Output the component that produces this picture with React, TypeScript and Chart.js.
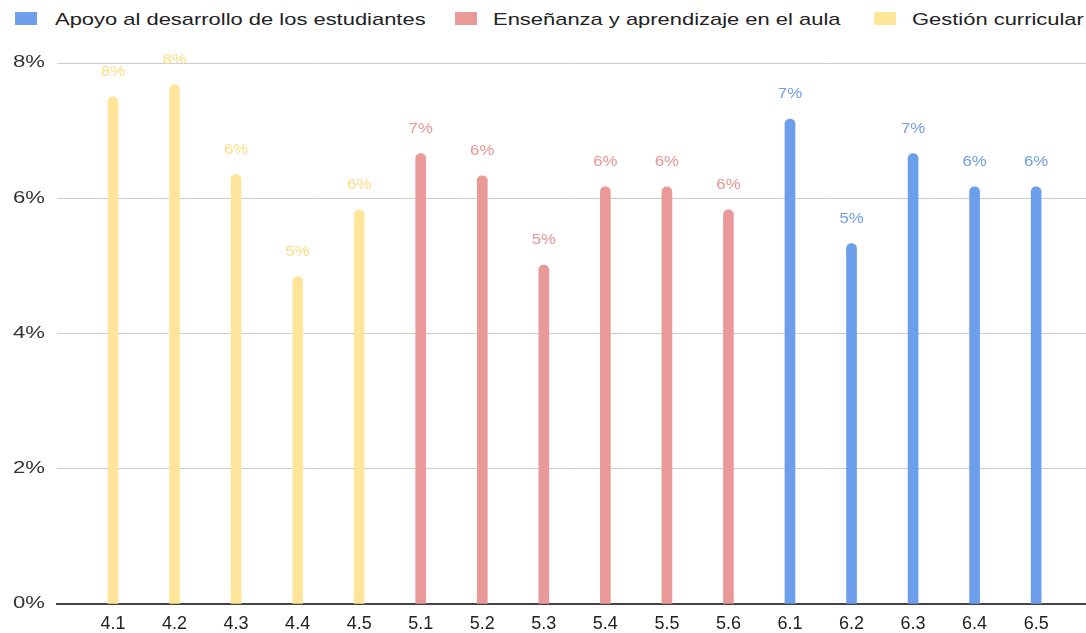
import React, { useEffect, useRef } from "react";
import { Chart, registerables } from "chart.js";

Chart.register(...registerables);

const categories = ["4.1", "4.2", "4.3", "4.4", "4.5", "5.1", "5.2", "5.3", "5.4", "5.5", "5.6", "6.1", "6.2", "6.3", "6.4", "6.5"];

const apoyoCats = ["6.1", "6.2", "6.3", "6.4", "6.5"];
const apoyoValues = [7.17, 5.33, 6.66, 6.17, 6.17];

const ensenanzaCats = ["5.1", "5.2", "5.3", "5.4", "5.5", "5.6"];
const ensenanzaValues = [6.66, 6.33, 5.01, 6.17, 6.17, 5.83];

const gestionCats = ["4.1", "4.2", "4.3", "4.4", "4.5"];
const gestionValues = [7.5, 7.68, 6.35, 4.84, 5.83];

const seriesNames = ["Apoyo al desarrollo de los estudiantes", "Enseñanza y aprendizaje en el aula", "Gestión curricular"];

const yTicks = [0, 2, 4, 6, 8];

const BLUE = "#6d9eeb";
const RED = "#ea9999";
const YELLOW = "#ffe599";
const seriesColors = [BLUE, RED, YELLOW];
const labelColors = [BLUE, "#e99595", "#fcdc85"];

const FONT = "'Liberation Sans', Arial, sans-serif";

function points(cats: string[], vals: number[]) {
  return cats.map((c, i) => ({ x: categories.indexOf(c), y: vals[i] }));
}

const dataLabels = {
  id: "dataLabels",
  afterDatasetsDraw(chart: any) {
    const ctx = chart.ctx;
    chart.data.datasets.forEach((ds: any, di: number) => {
      const meta = chart.getDatasetMeta(di);
      meta.data.forEach((el: any, i: number) => {
        const v = ds.data[i].y;
        ctx.save();
        ctx.font = `14px ${FONT}`;
        ctx.textAlign = "center";
        ctx.textBaseline = "alphabetic";
        ctx.fillStyle = labelColors[di];
        ctx.translate(el.x, el.y - 21);
        ctx.scale(1.2, 1);
        ctx.fillText(Math.round(v) + "%", 0, 0);
        ctx.restore();
      });
    });
  },
};

const stretchYLabels = {
  id: "stretchYLabels",
  beforeDraw(chart: any) {
    const sc = chart.scales.y;
    if (!sc || sc.__patched) return;
    sc.__patched = true;
    const orig = sc.drawLabels;
    sc.drawLabels = function (area: any) {
      const ctx = this.ctx;
      const ax = chart.chartArea.left - 12;
      ctx.save();
      ctx.translate(ax, 0);
      ctx.scale(1.38, 1);
      ctx.translate(-ax, 0);
      orig.call(this, area);
      ctx.restore();
    };
  },
};

const legendBoxes = [15, 455, 874];
const legendTexts = [55, 493, 912];

export default function App() {
  const ref = useRef<HTMLCanvasElement | null>(null);
  useEffect(() => {
    if (!ref.current) return;
    const chart = new Chart(ref.current, {
      type: "bar",
      data: {
        datasets: [
          { label: seriesNames[0], data: points(apoyoCats, apoyoValues), backgroundColor: BLUE },
          { label: seriesNames[1], data: points(ensenanzaCats, ensenanzaValues), backgroundColor: RED },
          { label: seriesNames[2], data: points(gestionCats, gestionValues), backgroundColor: YELLOW },
        ],
      },
      options: {
        animation: false,
        responsive: true,
        maintainAspectRatio: false,
        layout: { padding: { left: 0, right: 0, top: 63, bottom: 0 } },
        datasets: {
          bar: {
            grouped: false,
            barThickness: 10,
            borderRadius: { topLeft: 5, topRight: 5, bottomLeft: 0, bottomRight: 0 },
            borderSkipped: "bottom",
          } as any,
        },
        scales: {
          x: {
            type: "linear",
            min: -0.91,
            max: 15.81,
            offset: false,
            grid: { display: false, drawTicks: false },
            border: { display: true, color: "#444444", width: 2 },
            afterBuildTicks(scale: any) {
              scale.ticks = categories.map((_, i) => ({ value: i }));
            },
            afterFit(scale: any) {
              scale.height = 29;
            },
            ticks: {
              autoSkip: false,
              maxRotation: 0,
              padding: 9,
              color: "#222222",
              font: { family: FONT, size: 18 },
              callback: (v: any) => categories[v as number] ?? "",
            },
          },
          y: {
            min: 0,
            max: 8,
            afterBuildTicks(scale: any) {
              scale.ticks = yTicks.map((v) => ({ value: v }));
            },
            afterFit(scale: any) {
              scale.width = 57;
            },
            grid: {
              drawTicks: false,
              color: (c: any) => (c.tick && c.tick.value === 0 ? "rgba(0,0,0,0)" : "#cccccc"),
              lineWidth: 1,
            },
            border: { display: false },
            ticks: {
              padding: 12,
              color: "#333333",
              font: { family: FONT, size: 16 },
              callback: (v: any) => v + "%",
            },
          },
        },
        plugins: {
          legend: { display: false },
          tooltip: { enabled: false },
        },
      },
      plugins: [dataLabels, stretchYLabels],
    });
    return () => chart.destroy();
  }, []);
  return (
    <div style={{ position: "fixed", left: 0, top: 0, width: 1086, height: 633, background: "#fff", overflow: "hidden" }}>
      {seriesNames.map((name, i) => (
        <React.Fragment key={name}>
          <div
            style={{
              position: "absolute",
              left: legendBoxes[i],
              top: 12,
              width: 22,
              height: 13,
              background: seriesColors[i],
            }}
          />
          <div
            style={{
              position: "absolute",
              left: legendTexts[i],
              top: 11,
              font: `17px ${FONT}`,
              lineHeight: "17px",
              color: "#222222",
              whiteSpace: "nowrap",
              transform: "scaleX(1.29)",
              transformOrigin: "left center",
            }}
          >
            {name}
          </div>
        </React.Fragment>
      ))}
      <div style={{ position: "absolute", left: 0, top: 0, width: 1086, height: 633 }}>
        <canvas ref={ref} />
      </div>
    </div>
  );
}
